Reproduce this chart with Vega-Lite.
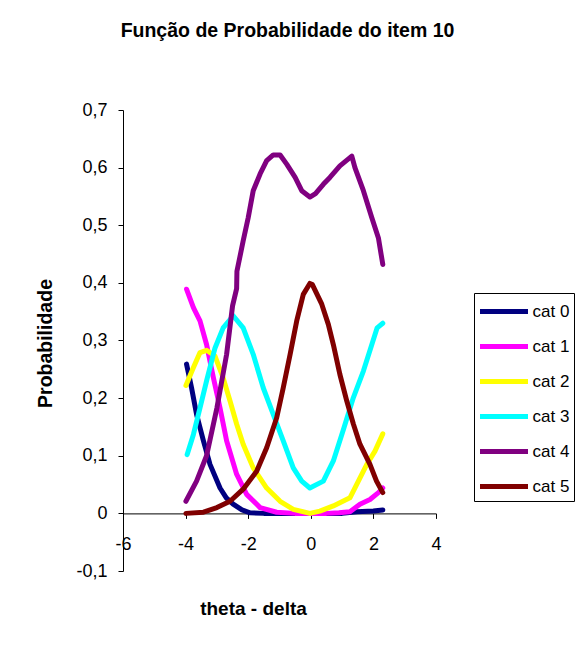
{
  "$schema": "https://vega.github.io/schema/vega-lite/v6.json",
  "width": 313,
  "height": 461,
  "autosize": {"type": "none"},
  "padding": {"left": 123, "top": 110, "right": 142, "bottom": 87},
  "background": "white",
  "config": {
    "locale": {"number": {"decimal": ",", "thousands": ".", "grouping": [3], "currency": ["", ""], "minus": "-"}},
    "view": {"stroke": null},
    "font": "Liberation Sans"
  },
  "title": {
    "text": "Função de Probabilidade do item 10",
    "font": "Liberation Sans",
    "fontSize": 19.5,
    "fontWeight": "bold",
    "color": "black",
    "anchor": "middle",
    "frame": "group",
    "dx": 8,
    "offset": 45,
    "baseline": "alphabetic"
  },
  "data": {
    "values": [
      {"cat": "cat 0", "theta": -3.97, "prob": 0.259},
      {"cat": "cat 0", "theta": -3.81, "prob": 0.218},
      {"cat": "cat 0", "theta": -3.65, "prob": 0.172},
      {"cat": "cat 0", "theta": -3.43, "prob": 0.126},
      {"cat": "cat 0", "theta": -3.22, "prob": 0.085},
      {"cat": "cat 0", "theta": -2.9, "prob": 0.044},
      {"cat": "cat 0", "theta": -2.7, "prob": 0.027},
      {"cat": "cat 0", "theta": -2.48, "prob": 0.016},
      {"cat": "cat 0", "theta": -2.2, "prob": 0.006},
      {"cat": "cat 0", "theta": -1.94, "prob": 0.001},
      {"cat": "cat 0", "theta": -1.5, "prob": 0.0},
      {"cat": "cat 0", "theta": 0.0, "prob": 0.0},
      {"cat": "cat 0", "theta": 1.0, "prob": 0.0},
      {"cat": "cat 0", "theta": 1.47, "prob": 0.003},
      {"cat": "cat 0", "theta": 2.0, "prob": 0.004},
      {"cat": "cat 0", "theta": 2.3, "prob": 0.006},

      {"cat": "cat 1", "theta": -3.97, "prob": 0.389},
      {"cat": "cat 1", "theta": -3.75, "prob": 0.357},
      {"cat": "cat 1", "theta": -3.54, "prob": 0.334},
      {"cat": "cat 1", "theta": -3.33, "prob": 0.293},
      {"cat": "cat 1", "theta": -3.11, "prob": 0.235},
      {"cat": "cat 1", "theta": -2.9, "prob": 0.183},
      {"cat": "cat 1", "theta": -2.69, "prob": 0.126},
      {"cat": "cat 1", "theta": -2.37, "prob": 0.068},
      {"cat": "cat 1", "theta": -2.05, "prob": 0.033},
      {"cat": "cat 1", "theta": -1.62, "prob": 0.01},
      {"cat": "cat 1", "theta": -1.09, "prob": 0.002},
      {"cat": "cat 1", "theta": -0.5, "prob": 0.0},
      {"cat": "cat 1", "theta": 0.5, "prob": 0.0},
      {"cat": "cat 1", "theta": 0.9, "prob": 0.001},
      {"cat": "cat 1", "theta": 1.25, "prob": 0.003},
      {"cat": "cat 1", "theta": 1.57, "prob": 0.016},
      {"cat": "cat 1", "theta": 1.89, "prob": 0.024},
      {"cat": "cat 1", "theta": 2.16, "prob": 0.036},
      {"cat": "cat 1", "theta": 2.3, "prob": 0.044},

      {"cat": "cat 2", "theta": -3.99, "prob": 0.222},
      {"cat": "cat 2", "theta": -3.75, "prob": 0.253},
      {"cat": "cat 2", "theta": -3.54, "prob": 0.279},
      {"cat": "cat 2", "theta": -3.33, "prob": 0.283},
      {"cat": "cat 2", "theta": -3.06, "prob": 0.273},
      {"cat": "cat 2", "theta": -2.8, "prob": 0.235},
      {"cat": "cat 2", "theta": -2.58, "prob": 0.195},
      {"cat": "cat 2", "theta": -2.37, "prob": 0.155},
      {"cat": "cat 2", "theta": -2.16, "prob": 0.12},
      {"cat": "cat 2", "theta": -1.84, "prob": 0.079},
      {"cat": "cat 2", "theta": -1.41, "prob": 0.044},
      {"cat": "cat 2", "theta": -0.98, "prob": 0.021},
      {"cat": "cat 2", "theta": -0.56, "prob": 0.007},
      {"cat": "cat 2", "theta": -0.03, "prob": 0.0},
      {"cat": "cat 2", "theta": 0.29, "prob": 0.004},
      {"cat": "cat 2", "theta": 0.72, "prob": 0.013},
      {"cat": "cat 2", "theta": 1.25, "prob": 0.027},
      {"cat": "cat 2", "theta": 1.52, "prob": 0.056},
      {"cat": "cat 2", "theta": 1.79, "prob": 0.085},
      {"cat": "cat 2", "theta": 2.05, "prob": 0.108},
      {"cat": "cat 2", "theta": 2.3, "prob": 0.138},

      {"cat": "cat 3", "theta": -3.95, "prob": 0.102},
      {"cat": "cat 3", "theta": -3.75, "prob": 0.137},
      {"cat": "cat 3", "theta": -3.54, "prob": 0.183},
      {"cat": "cat 3", "theta": -3.33, "prob": 0.23},
      {"cat": "cat 3", "theta": -3.06, "prob": 0.287},
      {"cat": "cat 3", "theta": -2.8, "prob": 0.322},
      {"cat": "cat 3", "theta": -2.48, "prob": 0.343},
      {"cat": "cat 3", "theta": -2.16, "prob": 0.322},
      {"cat": "cat 3", "theta": -1.84, "prob": 0.276},
      {"cat": "cat 3", "theta": -1.52, "prob": 0.218},
      {"cat": "cat 3", "theta": -1.2, "prob": 0.172},
      {"cat": "cat 3", "theta": -0.88, "prob": 0.126},
      {"cat": "cat 3", "theta": -0.56, "prob": 0.079},
      {"cat": "cat 3", "theta": -0.29, "prob": 0.056},
      {"cat": "cat 3", "theta": -0.03, "prob": 0.044},
      {"cat": "cat 3", "theta": 0.4, "prob": 0.056},
      {"cat": "cat 3", "theta": 0.72, "prob": 0.091},
      {"cat": "cat 3", "theta": 1.04, "prob": 0.145},
      {"cat": "cat 3", "theta": 1.36, "prob": 0.201},
      {"cat": "cat 3", "theta": 1.68, "prob": 0.247},
      {"cat": "cat 3", "theta": 1.95, "prob": 0.293},
      {"cat": "cat 3", "theta": 2.12, "prob": 0.322},
      {"cat": "cat 3", "theta": 2.3, "prob": 0.33},

      {"cat": "cat 4", "theta": -3.99, "prob": 0.021},
      {"cat": "cat 4", "theta": -3.65, "prob": 0.056},
      {"cat": "cat 4", "theta": -3.33, "prob": 0.1},
      {"cat": "cat 4", "theta": -3.0, "prob": 0.183},
      {"cat": "cat 4", "theta": -2.69, "prob": 0.276},
      {"cat": "cat 4", "theta": -2.5, "prob": 0.36},
      {"cat": "cat 4", "theta": -2.37, "prob": 0.39},
      {"cat": "cat 4", "theta": -2.36, "prob": 0.42},
      {"cat": "cat 4", "theta": -2.16, "prob": 0.473},
      {"cat": "cat 4", "theta": -2.0, "prob": 0.513},
      {"cat": "cat 4", "theta": -1.84, "prob": 0.56},
      {"cat": "cat 4", "theta": -1.62, "prob": 0.589},
      {"cat": "cat 4", "theta": -1.41, "prob": 0.612},
      {"cat": "cat 4", "theta": -1.2, "prob": 0.622},
      {"cat": "cat 4", "theta": -0.98, "prob": 0.622},
      {"cat": "cat 4", "theta": -0.77, "prob": 0.606},
      {"cat": "cat 4", "theta": -0.5, "prob": 0.583},
      {"cat": "cat 4", "theta": -0.29, "prob": 0.56},
      {"cat": "cat 4", "theta": -0.03, "prob": 0.549},
      {"cat": "cat 4", "theta": 0.15, "prob": 0.555},
      {"cat": "cat 4", "theta": 0.4, "prob": 0.571},
      {"cat": "cat 4", "theta": 0.61, "prob": 0.583},
      {"cat": "cat 4", "theta": 0.93, "prob": 0.603},
      {"cat": "cat 4", "theta": 1.31, "prob": 0.62},
      {"cat": "cat 4", "theta": 1.41, "prob": 0.6},
      {"cat": "cat 4", "theta": 1.68, "prob": 0.56},
      {"cat": "cat 4", "theta": 1.95, "prob": 0.513},
      {"cat": "cat 4", "theta": 2.16, "prob": 0.478},
      {"cat": "cat 4", "theta": 2.3, "prob": 0.432},

      {"cat": "cat 5", "theta": -3.99, "prob": 0.0},
      {"cat": "cat 5", "theta": -3.43, "prob": 0.002},
      {"cat": "cat 5", "theta": -3.0, "prob": 0.01},
      {"cat": "cat 5", "theta": -2.58, "prob": 0.021},
      {"cat": "cat 5", "theta": -2.16, "prob": 0.042},
      {"cat": "cat 5", "theta": -1.73, "prob": 0.073},
      {"cat": "cat 5", "theta": -1.41, "prob": 0.114},
      {"cat": "cat 5", "theta": -1.09, "prob": 0.166},
      {"cat": "cat 5", "theta": -0.88, "prob": 0.218},
      {"cat": "cat 5", "theta": -0.66, "prob": 0.276},
      {"cat": "cat 5", "theta": -0.45, "prob": 0.334},
      {"cat": "cat 5", "theta": -0.24, "prob": 0.38},
      {"cat": "cat 5", "theta": -0.03, "prob": 0.399},
      {"cat": "cat 5", "theta": 0.05, "prob": 0.397},
      {"cat": "cat 5", "theta": 0.2, "prob": 0.38},
      {"cat": "cat 5", "theta": 0.35, "prob": 0.363},
      {"cat": "cat 5", "theta": 0.56, "prob": 0.328},
      {"cat": "cat 5", "theta": 0.72, "prob": 0.293},
      {"cat": "cat 5", "theta": 0.93, "prob": 0.241},
      {"cat": "cat 5", "theta": 1.15, "prob": 0.195},
      {"cat": "cat 5", "theta": 1.36, "prob": 0.155},
      {"cat": "cat 5", "theta": 1.57, "prob": 0.12},
      {"cat": "cat 5", "theta": 1.89, "prob": 0.085},
      {"cat": "cat 5", "theta": 2.1, "prob": 0.056},
      {"cat": "cat 5", "theta": 2.3, "prob": 0.036}
    ]
  },
  "mark": {"type": "line", "strokeWidth": 5, "strokeCap": "round", "strokeJoin": "round"},
  "encoding": {
    "x": {
      "field": "theta",
      "type": "quantitative",
      "scale": {"domain": [-6, 4], "nice": false, "zero": false},
      "axis": {
        "values": [-6, -4, -2, 0, 2, 4],
        "format": "d",
        "offset": -57.6,
        "grid": false,
        "domainColor": "black",
        "tickColor": "black",
        "tickSize": 5,
        "labelFont": "Liberation Sans",
        "labelFontSize": 18,
        "labelColor": "black",
        "labelPadding": 17,
        "labelFlush": false,
        "title": "theta - delta",
        "titleFont": "Liberation Sans",
        "titleFontSize": 19,
        "titleFontWeight": "bold",
        "titleColor": "black",
        "titleX": 130,
        "titleY": 94.6,
        "titleBaseline": "middle",
        "titleAlign": "center"
      }
    },
    "y": {
      "field": "prob",
      "type": "quantitative",
      "scale": {"domain": [-0.1, 0.7], "nice": false, "zero": false},
      "axis": {
        "values": [-0.1, 0, 0.1, 0.2, 0.3, 0.4, 0.5, 0.6, 0.7],
        "format": ".1~f",
        "grid": false,
        "domainColor": "black",
        "tickColor": "black",
        "tickSize": 5,
        "labelFont": "Liberation Sans",
        "labelFontSize": 18,
        "labelColor": "black",
        "labelPadding": 11,
        "labelFlush": false,
        "title": "Probabilidade",
        "titleFont": "Liberation Sans",
        "titleFontSize": 19.5,
        "titleFontWeight": "bold",
        "titleColor": "black",
        "titleAngle": 270,
        "titleX": -78,
        "titleY": 233,
        "titleBaseline": "middle",
        "titleAlign": "center"
      }
    },
    "color": {
      "field": "cat",
      "type": "nominal",
      "scale": {
        "domain": ["cat 0", "cat 1", "cat 2", "cat 3", "cat 4", "cat 5"],
        "range": ["#000080", "#FF00FF", "#FFFF00", "#00FFFF", "#800080", "#800000"]
      },
      "legend": {
        "title": null,
        "orient": "none",
        "legendX": 351,
        "legendY": 183,
        "strokeColor": "black",
        "fillColor": "white",
        "padding": 4,
        "symbolType": "M-2,0H2",
        "symbolSize": 576,
        "symbolStrokeWidth": 5,
        "symbolOffset": 11.5,
        "labelOffset": 14,
        "labelFont": "Liberation Sans",
        "labelFontSize": 17,
        "labelColor": "black",
        "rowPadding": 10,
        "labelExpr": "datum.label + '\u00a0\u00a0\u00a0\u00a0\u00a0\u00a0'"
      }
    }
  }
}
